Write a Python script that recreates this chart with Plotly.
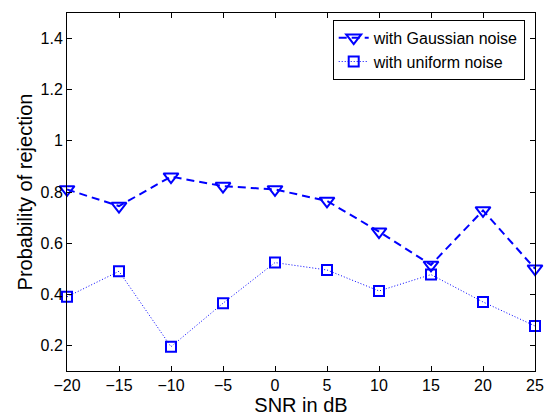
import plotly.graph_objects as go

snr = [-20, -15, -10, -5, 0, 5, 10, 15, 20, 25]
gaussian = [0.81, 0.745, 0.86, 0.823, 0.81, 0.765, 0.645, 0.515, 0.728, 0.50]
uniform = [0.39, 0.49, 0.195, 0.365, 0.524, 0.495, 0.413, 0.477, 0.37, 0.276]
x_ticks = [-20, -15, -10, -5, 0, 5, 10, 15, 20, 25]
x_tick_text = ["\u221220", "\u221215", "\u221210", "\u22125", "0", "5", "10", "15", "20", "25"]
y_ticks = [0.2, 0.4, 0.6, 0.8, 1.0, 1.2, 1.4]
y_tick_text = ["0.2", "0.4", "0.6", "0.8", "1", "1.2", "1.4"]

blue = "rgb(0,0,255)"
fig = go.Figure()
fig.add_trace(go.Scatter(
    x=snr, y=gaussian, mode="lines+markers", name="with Gaussian noise",
    line=dict(color=blue, width=2, dash="8px,5px"),
    marker=dict(symbol="triangle-down-open", size=13, color=blue, line=dict(width=2, color=blue)),
    cliponaxis=False,
))
fig.add_trace(go.Scatter(
    x=snr, y=uniform, mode="lines+markers", name="with uniform noise",
    line=dict(color=blue, width=1, dash="1px,2px"),
    marker=dict(symbol="square-open", size=10, color=blue, line=dict(width=2, color=blue)),
    cliponaxis=False,
))

axis_common = dict(
    showline=True, linecolor="black", linewidth=1, mirror="ticks",
    ticks="inside", ticklen=5, tickwidth=1, tickcolor="black", showgrid=False, zeroline=False,
    tickfont=dict(size=16, color="black"),
)
fig.update_layout(
    width=556, height=420,
    margin=dict(l=67, r=17, t=12, b=43),
    paper_bgcolor="white", plot_bgcolor="white",
    font=dict(family="Liberation Sans, Arial, Helvetica, sans-serif", color="black"),
    xaxis=dict(range=[-20, 25], tickvals=x_ticks, ticktext=x_tick_text,
               title=dict(text="SNR in dB", font=dict(size=20), standoff=0), **axis_common),
    yaxis=dict(range=[0.1, 1.5], tickvals=y_ticks, ticktext=y_tick_text,
               title=dict(text="Probability of rejection", font=dict(size=20), standoff=2), **axis_common),
    legend=dict(x=0.978, y=0.981, xanchor="right", yanchor="top",
                bordercolor="black", borderwidth=1, bgcolor="white",
                font=dict(size=16), tracegroupgap=0, itemwidth=30),
    showlegend=True,
)
fig.write_html("out.html", config={"displayModeBar": False},
               post_script="document.body.style.margin='0';")
